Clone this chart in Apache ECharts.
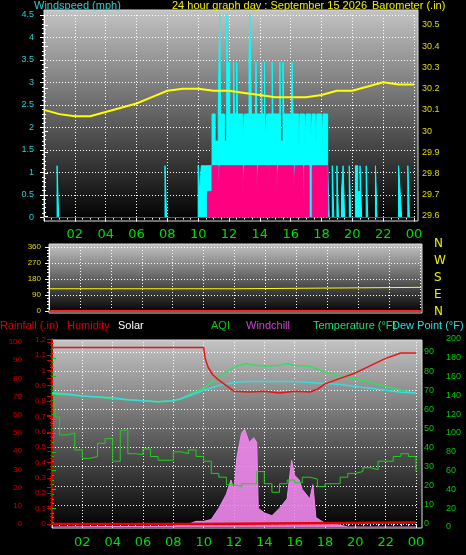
<!DOCTYPE html>
<html><head><meta charset="utf-8">
<script src="https://cdn.jsdelivr.net/npm/echarts@6/dist/echarts.min.js"></script>
<style>html,body{margin:0;padding:0;background:#000}#c{width:466px;height:555px}</style>
</head><body><div id="c"></div>
<script>
// ---- DATA ----
const hourTicks = ['02','04','06','08','10','12','14','16','18','20','22','00'];
const windGust = [[0,0],[0.85,1.15],[0.95,0],[7.85,1.15],[7.95,0],
 [10.0,1.15],[10.1,0.58],[10.2,1.15],[10.5,1.15],[10.7,1.15],[10.9,2.3],[11.1,1.7],[11.3,2.3],[11.4,4.6],[11.45,2.3],[11.7,1.7],[11.85,4.6],[11.9,3.45],[12.05,2.3],
 [12.3,3.45],[12.35,2.3],[12.5,3.45],[12.55,2.3],[12.9,1.7],[13.0,2.3],[13.3,3.45],[13.35,4.6],[13.45,2.3],[13.7,1.7],[13.75,3.45],[13.8,2.3],[14.1,3.45],[14.15,2.3],
 [14.3,3.45],[14.35,1.7],[14.45,2.3],[14.8,3.45],[14.85,2.3],[15.3,3.45],[15.35,1.7],[15.5,3.45],[15.55,2.3],[16.0,1.7],[16.1,3.45],[16.15,2.3],[16.5,1.15],[16.6,2.3],
 [16.9,1.15],[17.0,2.3],[17.3,1.7],[17.4,2.3],[17.6,1.15],[17.7,2.3],[18.0,1.15],[18.1,2.3],[18.4,1.15],[18.5,0],[18.7,1.15],[18.8,0],[19.0,1.15],[19.1,0],
 [19.3,0.58],[19.4,1.15],[19.5,0],[19.8,1.15],[19.9,0],[20.2,1.15],[20.35,0.58],[20.5,1.15],[20.6,0],[20.9,1.15],[21.0,0],[21.5,1.15],[21.6,0],
 [23.0,1.15],[23.1,0.58],[23.2,0],[23.6,1.15],[23.7,0],[24.1,0]];
const windAvg = [[0,0],[10.6,0.58],[10.9,1.15],[11.3,0.58],[11.4,1.15],[12.0,1.15],[12.9,0.58],[13.0,1.15],[13.8,0.58],[13.9,1.15],[14.5,0],[14.55,1.15],
 [15.1,0.58],[15.2,1.15],[16.2,0.58],[16.3,1.15],[16.8,0],[16.9,1.15],[17.2,0],[17.4,1.15],[18.4,0],[24.1,0]];
const baroHours = [0,1,2,3,4,5,6,7,8,9,10,11,12,13,14,15,16,17,18,19,20,21,22,23,24];
const baro = [30.10,30.08,30.07,30.07,30.09,30.11,30.13,30.16,30.19,30.20,30.20,30.19,30.19,30.18,30.17,30.16,30.16,30.16,30.17,30.19,30.19,30.21,30.23,30.22,30.22];
const dirHours = [0,12.0,12.05,24.1];
const windDir = [125,125,133,133];
const humHours = [0,10.0,10.1,10.3,10.6,11,11.5,12,13,14,15,16,17,17.5,18,19,20,21,22,23,24];
const humidity = [97,97,91,86,82,79,76,73,72.5,73,72,73,72.5,74,77,80,83,87,91,94,94];
const tHours = [0,1,2,3,4,5,6,7,8,8.5,9,10,11,12,12.8,13,14,15,15.5,16,17,18,19,20,21,22,23,24];
const temperature = [68,67.5,67,66.5,65.5,65,64.5,64,64.5,65.5,67.5,71,77,82,84,83.5,82.5,83,84,83,82.5,79.5,77.5,76,74,72,70,68.5];
const dewPoint = [68.5,68,67,66.5,66,65,64.5,64,64.5,65.5,67,70,72.5,74,74.5,74.5,74.5,74.5,74.5,74.5,74,73.5,73,72,71,70,69,68.5];
const aqiHours = [0,0.2,0.5,1,1.5,2,2.5,3,3.5,4,4.5,5,5.5,6,6.5,7,8,8.5,9,9.5,10,10.5,11,11.5,12,12.5,13,13.5,14,14.5,15,15.5,16,16.5,17,17.5,18,18.5,19,19.5,20,20.5,21,21.5,22,22.5,23,23.5,24];
const aqi = [143,117,98,100,82,73,75,89,94,70,103,78,77,83,75,71,80,78,82,75,70,57,53,45,43,46,46,59,46,37,46,50,47,53,51,43,46,46,53,57,59,63,61,70,70,75,78,75,59];
const chillHours = [0,8,9,9.5,10,10.5,11,11.5,11.8,12,12.2,12.5,12.7,13,13.3,13.5,13.6,14,14.5,15,15.5,15.8,16,16.3,16.5,17,17.2,17.4,18,19,19.5,24];
const windchill = [0,1,3,6,6,8,20,35,50,40,75,100,104,90,95,90,20,15,12,20,30,71,55,50,40,30,45,10,4,2,0,0];
const rainHours = [0,10.0,10.05,24];
const rainfall = [0,0,0.01,0.01];
const dirLabels = ['N','W','S','E','N'];
// ---- CHART ----
const zip=(a,b)=>a.map((h,i)=>[h,b[i]]);
const bgGrad={type:'linear',x:0,y:0,x2:0,y2:1,colorStops:[{offset:0,color:'#c4c4c4'},{offset:1,color:'#000'}]};
const dotted={show:true,lineStyle:{color:'#fff',type:[1,2],width:1}};
const xa=(gi,show,sl,m)=>({type:'value',gridIndex:gi,min:0,max:24,interval:2,show:true,
  axisLine:{show:false},axisTick:{show:show,length:4,lineStyle:{color:'#fff'}},minorTick:{show:show,splitNumber:4,length:2,lineStyle:{color:'#fff'}},
  splitLine:sl?dotted:{show:false},
  axisLabel:{show:show,color:'#00dd00',fontSize:13,margin:m||8,fontFamily:'DejaVu Sans',formatter:v=>v===0?'':hourTicks[v/2-1]}});
const ya=(gi,o)=>Object.assign({type:'value',gridIndex:gi,axisLine:{show:true,lineStyle:{color:'#fff'}},axisTick:{show:true,length:4},
  minorTick:{show:true,splitNumber:5,length:2},splitLine:{show:false}},o);
const font={fontSize:11,fontFamily:'Liberation Sans'};
const opt={
 backgroundColor:'#000',animation:false,
 graphic:[
  {type:'rect',shape:{x:44,y:10,width:374,height:211},style:{fill:bgGrad,stroke:'#ddd',lineWidth:1},z:-10},
  {type:'rect',shape:{x:49,y:244,width:373,height:69},style:{fill:bgGrad,stroke:'#ddd',lineWidth:1},z:-10},
  {type:'rect',shape:{x:52,y:340,width:370,height:188},style:{fill:bgGrad,stroke:'#ddd',lineWidth:1},z:-10},
  {type:'text',left:34,top:0,style:Object.assign({text:'Windspeed (mph)',fill:'#33cccc'},font)},
  {type:'text',left:172,top:0,style:Object.assign({text:'24 hour graph day : September 15 2026',fill:'#eeee00'},font)},
  {type:'text',left:372,top:0,style:Object.assign({text:'Barometer (.in)',fill:'#eeee00'},font)},
  {type:'text',left:0,top:320,style:Object.assign({text:'Rainfall (.in)',fill:'#dd0000'},font)},
  {type:'text',left:67,top:320,style:Object.assign({text:'Humidity',fill:'#dd0000'},font)},
  {type:'text',left:118,top:320,style:Object.assign({text:'Solar',fill:'#ffffff'},font)},
  {type:'text',left:211,top:320,style:Object.assign({text:'AQI',fill:'#00cc00'},font)},
  {type:'text',left:246,top:320,style:Object.assign({text:'Windchill',fill:'#cc44cc'},font)},
  {type:'text',left:313,top:320,style:Object.assign({text:'Temperature (°F)',fill:'#22dd66'},font)},
  {type:'text',left:392,top:320,style:Object.assign({text:'Dew Point (°F)',fill:'#33dddd'},font)},
 ].concat(dirLabels.map((t,i)=>({type:'text',left:434,top:238+i*17,style:{text:t,fill:'#eeee00',fontSize:12,fontFamily:'DejaVu Sans'}}))),
 grid:[
  {left:44,width:370,top:15,height:202.5},
  {left:44,width:370,top:25,height:191},
  {left:49,width:371,top:247,height:64},
  {left:52,width:364,top:342,height:182},
  {left:52,width:364,top:339.6,height:184.4},
  {left:52,width:364,top:352,height:172},
  {left:52,width:364,top:339,height:188}
 ],
 xAxis:[xa(0,true,true,11),xa(1,false,false),xa(2,false,true),xa(3,true,true,12),xa(4,false,false),xa(5,false,false),xa(6,false,false)],
 yAxis:[
  ya(0,{min:0,max:4.5,interval:0.5,offset:2,axisLabel:{color:'#33cccc',fontSize:9,margin:8},splitLine:dotted}),
  ya(1,{min:29.6,max:30.5,interval:0.1,position:'right',offset:2,axisLabel:{color:'#dddd00',fontSize:9,margin:6}}),
  ya(2,{min:0,max:360,interval:90,offset:2,axisLabel:{color:'#dddd00',fontSize:8,margin:6},splitLine:dotted}),
  ya(3,{min:0,max:100,interval:10,offset:22,axisLine:{lineStyle:{color:'#cc0000',width:2}},axisTick:{lineStyle:{color:'#cc0000'}},minorTick:{show:true,splitNumber:5,length:2,lineStyle:{color:'#cc0000'}},axisLabel:{color:'#cc0000',fontSize:8,margin:8}}),
  ya(4,{min:0,max:1.2,interval:0.1,offset:0,axisLine:{lineStyle:{color:'#cc0000',width:2}},axisTick:{lineStyle:{color:'#cc0000'}},minorTick:{show:false},axisLabel:{color:'#cc0000',fontSize:8,margin:6,formatter:v=>v===0?'0':String(+v.toFixed(1))}}),
  ya(5,{min:0,max:90,interval:10,position:'right',offset:6,axisLine:{show:false},axisTick:{show:false},minorTick:{show:false},axisLabel:{color:'#00cc00',fontSize:9,margin:2},splitLine:dotted}),
  ya(6,{min:0,max:200,interval:20,position:'right',offset:26,axisLine:{show:false},axisTick:{show:true,length:4,lineStyle:{color:'#00cc00'}},minorTick:{show:true,splitNumber:4,length:2,lineStyle:{color:'#00cc00'}},axisLabel:{color:'#00cc00',fontSize:9,margin:4}})
 ],
 series:[
  {type:'line',xAxisIndex:0,yAxisIndex:0,step:'end',symbol:'none',data:windGust,lineStyle:{color:'#00ffff',width:1},areaStyle:{color:'#00ffff',opacity:1}},
  {type:'line',xAxisIndex:0,yAxisIndex:0,step:'end',symbol:'none',data:windAvg,lineStyle:{color:'#ff0080',width:1},areaStyle:{color:'#ff0080',opacity:1}},
  {type:'line',xAxisIndex:1,yAxisIndex:1,symbol:'none',data:zip(baroHours,baro),lineStyle:{color:'#ffff00',width:2}},
  {type:'line',xAxisIndex:2,yAxisIndex:2,step:'end',symbol:'none',data:zip(dirHours,windDir),lineStyle:{color:'#ffff00',width:1}},
  {type:'line',xAxisIndex:2,yAxisIndex:2,symbol:'none',data:[[0,0],[24.1,0]],lineStyle:{color:'#ff2020',width:2}},
  {type:'line',xAxisIndex:6,yAxisIndex:6,symbol:'none',data:zip(chillHours,windchill),lineStyle:{color:'#ee88ee',width:1},areaStyle:{color:'#ee88ee',opacity:0.9}},
  {type:'line',xAxisIndex:6,yAxisIndex:6,step:'end',symbol:'none',data:zip(aqiHours,aqi),lineStyle:{color:'#22cc22',width:1}},
  {type:'line',xAxisIndex:5,yAxisIndex:5,symbol:'none',data:zip(tHours,temperature),lineStyle:{color:'#33dd66',width:1.5}},
  {type:'line',xAxisIndex:5,yAxisIndex:5,symbol:'none',data:zip(tHours,dewPoint),lineStyle:{color:'#33dddd',width:1.5}},
  {type:'line',xAxisIndex:3,yAxisIndex:3,symbol:'none',data:zip(humHours,humidity),lineStyle:{color:'#ee1111',width:1.5}},
  {type:'line',xAxisIndex:4,yAxisIndex:4,step:'end',symbol:'none',data:zip(rainHours,rainfall),lineStyle:{color:'#ee0000',width:2.5}}
 ]
};
echarts.init(document.getElementById('c')).setOption(opt);
</script></body></html>
